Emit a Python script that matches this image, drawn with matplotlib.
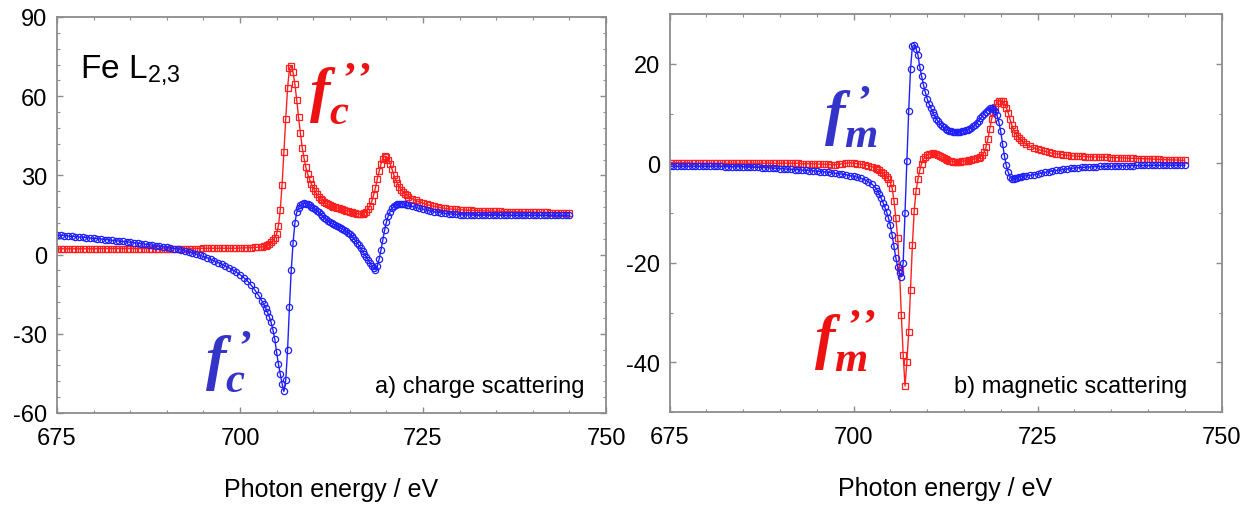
import numpy as np
import matplotlib
matplotlib.use("Agg")
import matplotlib.pyplot as plt
from matplotlib.ticker import MultipleLocator

plt.rcParams['font.family'] = ['Liberation Sans', 'DejaVu Sans']
plt.rcParams['axes.unicode_minus'] = False
plt.rcParams['mathtext.fontset'] = 'custom'
plt.rcParams['mathtext.it'] = 'Liberation Serif:italic:bold'
plt.rcParams['mathtext.rm'] = 'Liberation Serif:bold'
plt.rcParams['mathtext.sf'] = 'Liberation Sans'

# photon energy grid (eV): coarse below/above the edges, fine across them
energy = np.concatenate([np.arange(675.0, 703.0, 0.5),
                         np.arange(703.0, 723.0, 0.25),
                         np.arange(723.0, 745.01, 0.5)])

# charge scattering factors
fc_imag = [
    # 675 - 702.5
    2.2, 2.2, 2.2, 2.2, 2.2, 2.2, 2.2, 2.2,
    2.2, 2.2, 2.2, 2.2, 2.3, 2.3, 2.3, 2.3,
    2.3, 2.3, 2.3, 2.3, 2.3, 2.3, 2.3, 2.3,
    2.3, 2.3, 2.3, 2.3, 2.3, 2.3, 2.3, 2.3,
    2.3, 2.3, 2.3, 2.3, 2.3, 2.3, 2.3, 2.3,
    2.4, 2.4, 2.4, 2.4, 2.4, 2.4, 2.4, 2.4,
    2.4, 2.4, 2.5, 2.5, 2.6, 2.6, 2.7, 2.8,
    # 703 - 722.75
    2.9, 3.1, 3.3, 3.6, 4.0, 4.6, 5.4, 6.4,
    7.8, 11.0, 17.0, 26.5, 39.0, 51.5, 63.0, 70.5,
    71.5, 69.0, 64.5, 58.5, 52.0, 46.0, 40.5, 36.5,
    33.0, 30.5, 28.5, 26.8, 25.3, 24.0, 22.9, 22.0,
    21.2, 20.5, 19.9, 19.4, 19.0, 18.7, 18.4, 18.1,
    17.9, 17.7, 17.5, 17.3, 17.1, 16.9, 16.7, 16.5,
    16.3, 16.1, 15.9, 15.7, 15.5, 15.4, 15.3, 15.4,
    15.7, 16.3, 17.2, 18.5, 20.2, 22.5, 25.3, 28.5,
    31.5, 34.3, 36.3, 37.3, 37.0, 36.0, 34.5, 32.5,
    30.3, 28.5, 27.0, 25.7, 24.6, 23.7, 23.0, 22.4,
    # 723 - 745
    22.0, 21.2, 20.5, 20.0, 19.5, 19.0, 18.6, 18.3,
    18.0, 17.7, 17.5, 17.3, 17.2, 17.1, 17.0, 16.9,
    16.8, 16.8, 16.7, 16.7, 16.6, 16.6, 16.5, 16.5,
    16.4, 16.4, 16.3, 16.3, 16.3, 16.2, 16.2, 16.2,
    16.1, 16.1, 16.1, 16.0, 16.0, 16.0, 16.0, 15.9,
    15.9, 15.9, 15.9, 15.9, 15.9,
]

fc_real = [
    7.4, 7.3, 7.2, 7.1, 6.9, 6.8, 6.7, 6.6,
    6.4, 6.3, 6.1, 6.0, 5.9, 5.7, 5.6, 5.4,
    5.3, 5.1, 5.0, 4.8, 4.7, 4.5, 4.3, 4.1,
    4.0, 3.8, 3.6, 3.4, 3.2, 3.0, 2.8, 2.5,
    2.3, 2.0, 1.7, 1.4, 1.0, 0.6, 0.2, -0.3,
    -0.7, -1.2, -1.8, -2.4, -3.0, -3.6, -4.3, -5.0,
    -5.8, -6.6, -7.6, -8.7, -9.9, -11.5, -13.3, -15.3,
    -17.6, -18.9, -20.3, -21.8, -23.5, -25.7, -28.5, -32.0,
    -37.0, -41.5, -45.3, -48.9, -51.8, -47.5, -36.0, -20.0,
    -6.0, 4.5, 12.0, 16.0, 17.8, 18.7, 19.2, 19.4,
    19.3, 19.0, 18.6, 18.2, 17.7, 17.2, 16.7, 16.1,
    15.4, 14.7, 14.0, 13.4, 12.8, 12.3, 11.9, 11.5,
    11.2, 10.9, 10.5, 10.1, 9.7, 9.3, 8.8, 8.3,
    7.8, 7.1, 6.3, 5.4, 4.5, 3.5, 2.4, 1.3,
    0.2, -0.9, -2.0, -3.1, -4.2, -5.2, -5.8, -4.5,
    -1.8, 1.6, 5.4, 9.2, 12.3, 14.6, 16.3, 17.5,
    18.3, 18.8, 19.1, 19.3, 19.3, 19.2, 19.0, 18.8,
    18.6, 18.3, 17.9, 17.5, 17.2, 16.8, 16.5, 16.2,
    16.0, 15.8, 15.6, 15.4, 15.3, 15.2, 15.1, 15.0,
    15.0, 15.0, 14.9, 14.9, 14.9, 14.9, 14.9, 14.9,
    14.9, 14.9, 14.9, 14.9, 14.9, 14.9, 14.9, 14.9,
    14.9, 14.9, 14.9, 14.9, 14.9, 14.9, 14.9, 14.9,
    14.9, 14.9, 14.9, 14.9, 14.9,
]

# magnetic scattering factors
fm_imag = [
    0.1, 0.1, 0.1, 0.1, 0.1, 0.1, 0.0, 0.0,
    0.0, 0.0, 0.0, 0.0, 0.0, 0.0, 0.0, 0.0,
    0.0, 0.0, 0.0, 0.0, 0.0, 0.0, 0.0, 0.0,
    0.0, 0.0, 0.0, 0.0, 0.0, 0.0, 0.0, 0.0,
    0.0, 0.0, 0.0, 0.0, -0.1, -0.1, -0.1, -0.1,
    -0.1, -0.2, -0.2, -0.2, -0.3, -0.3, -0.2, -0.1,
    0.0, 0.1, 0.0, -0.1, -0.2, -0.3, -0.5, -0.7,
    -1.0, -1.2, -1.4, -1.7, -2.0, -2.3, -2.7, -3.2,
    -3.9, -5.0, -7.5, -11.0, -15.0, -21.5, -30.5, -38.5,
    -44.8, -40.0, -34.0, -25.5, -16.5, -9.5, -5.5, -3.2,
    -1.4, -0.1, 0.8, 1.3, 1.6, 1.8, 1.9, 2.0,
    1.9, 1.8, 1.6, 1.4, 1.2, 1.0, 0.8, 0.6,
    0.5, 0.4, 0.3, 0.3, 0.3, 0.3, 0.3, 0.4,
    0.4, 0.5, 0.5, 0.6, 0.7, 0.8, 0.9, 1.0,
    1.1, 1.3, 1.6, 2.2, 3.2, 4.8, 6.8, 8.8,
    10.3, 11.4, 12.1, 12.5, 12.6, 12.5, 12.0, 11.2,
    10.2, 8.9, 7.7, 6.8, 6.1, 5.5, 5.0, 4.6,
    4.2, 3.8, 3.4, 3.1, 2.8, 2.6, 2.4, 2.2,
    2.0, 1.9, 1.8, 1.7, 1.6, 1.5, 1.45, 1.4,
    1.4, 1.35, 1.3, 1.3, 1.25, 1.25, 1.2, 1.2,
    1.15, 1.15, 1.1, 1.1, 1.05, 1.0, 1.0, 0.95,
    0.95, 0.9, 0.9, 0.85, 0.8, 0.8, 0.75, 0.7,
    0.7, 0.65, 0.65, 0.6, 0.6,
]

fm_real = [
    -0.6, -0.6, -0.6, -0.6, -0.6, -0.6, -0.6, -0.6,
    -0.6, -0.6, -0.6, -0.6, -0.6, -0.6, -0.6, -0.7,
    -0.7, -0.7, -0.7, -0.7, -0.7, -0.8, -0.8, -0.8,
    -0.8, -0.9, -0.9, -0.9, -1.0, -1.0, -1.1, -1.1,
    -1.2, -1.2, -1.3, -1.3, -1.4, -1.4, -1.5, -1.5,
    -1.6, -1.7, -1.7, -1.8, -1.9, -2.0, -2.1, -2.2,
    -2.3, -2.5, -2.6, -2.8, -3.0, -3.3, -3.7, -4.2,
    -4.9, -5.5, -6.2, -7.0, -7.9, -8.8, -9.8, -11.0,
    -12.5, -14.5, -16.7, -19.0, -20.8, -22.1, -22.8, -20.0,
    -10.0, 0.5, 10.5, 19.0, 23.5, 23.7, 23.0, 21.8,
    19.4, 17.5, 15.8, 14.3, 13.0, 12.0, 11.1, 10.3,
    9.6, 8.9, 8.4, 7.9, 7.5, 7.2, 6.9, 6.7,
    6.5, 6.4, 6.3, 6.3, 6.3, 6.3, 6.3, 6.4,
    6.5, 6.6, 6.7, 6.9, 7.1, 7.4, 7.7, 8.1,
    8.5, 9.0, 9.5, 10.0, 10.4, 10.8, 11.1, 11.2,
    11.0, 10.5, 9.7, 8.3, 6.4, 3.9, 1.5, -0.4,
    -1.7, -2.7, -3.2, -3.1, -3.0, -2.9, -2.8, -2.7,
    -2.6, -2.5, -2.4, -2.3, -2.15, -2.0, -1.85, -1.7,
    -1.55, -1.45, -1.35, -1.25, -1.15, -1.05, -0.95, -0.9,
    -0.85, -0.8, -0.75, -0.7, -0.7, -0.65, -0.65, -0.6,
    -0.6, -0.55, -0.55, -0.5, -0.5, -0.5, -0.5, -0.45,
    -0.45, -0.45, -0.45, -0.4, -0.4, -0.4, -0.4, -0.4,
    -0.4, -0.4, -0.4, -0.4, -0.4,
]

RED = '#ff1f1f'
BLUE = '#1f1fff'
RED_TXT = '#ee1111'
BLUE_TXT = '#3434c8'
GREY = '#8c8c8c'

W, H = 1259, 506
fig = plt.figure(figsize=(W / 100, H / 100), dpi=100)
ax1 = fig.add_axes([57 / W, 1 - 414 / H, 549 / W, 396 / H])
ax2 = fig.add_axes([669.5 / W, 1 - 413 / H, 552 / W, 398 / H])


def draw_pair(ax, y_imag, y_real):
    ax.plot(energy, y_imag, '-', color=RED, lw=1.0, marker='s', ms=4.2,
            mfc='none', mec=RED, mew=0.9)
    ax.plot(energy, y_real, '-', color=BLUE, lw=1.0, marker='o', ms=4.5,
            mfc='none', mec=BLUE, mew=0.9)


def style_axes(ax):
    ax.set_xlim(675, 750)
    ax.xaxis.set_major_locator(MultipleLocator(25))
    ax.xaxis.set_minor_locator(MultipleLocator(5))
    for s in ax.spines.values():
        s.set_color(GREY)
        s.set_linewidth(1.3)
    ax.tick_params(which='both', direction='in', top=True, right=True,
                   color=GREY, labelsize=17)
    ax.tick_params(which='major', length=4, width=1)
    ax.tick_params(which='minor', length=2.5, width=0.8)
    ax.tick_params(axis='x', pad=10)
    ax.tick_params(axis='y', pad=7)
    ax.set_xlabel('Photon energy / eV', fontsize=18, labelpad=20)


draw_pair(ax1, fc_imag, fc_real)
style_axes(ax1)
ax1.set_ylim(-60, 90)
ax1.yaxis.set_major_locator(MultipleLocator(30))
ax1.yaxis.set_minor_locator(MultipleLocator(6))

draw_pair(ax2, fm_imag, fm_real)
style_axes(ax2)
ax2.set_ylim(-50, 30)
ax2.set_yticks([-40, -20, 0, 20])
ax2.yaxis.set_minor_locator(MultipleLocator(10))

# panel annotations
ax1.text(0.042, 0.848, r'Fe L$_{\mathsf{2{,}3}}$', transform=ax1.transAxes,
         fontsize=24, ha='left', va='baseline')
ax1.text(0.96, 0.053, 'a) charge scattering', transform=ax1.transAxes,
         fontsize=17, ha='right', va='baseline')
ax2.text(0.9375, 0.05, 'b) magnetic scattering', transform=ax2.transAxes,
         fontsize=17, ha='right', va='baseline')

ax1.text(709.4, 55, r'$f_c^{\;’’}$', color=RED_TXT, fontsize=44,
         ha='left', va='baseline')
ax1.text(695.2, -46.5, r'$f_c^{\;’}$', color=BLUE_TXT, fontsize=44,
         ha='left', va='baseline')
ax2.text(696.0, 6.0, r'$f_m^{\;’}$', color=BLUE_TXT, fontsize=44,
         ha='left', va='baseline')
ax2.text(694.6, -39, r'$f_m^{\;’’}$', color=RED_TXT, fontsize=44,
         ha='left', va='baseline')

fig.savefig('out.png', dpi=100)
